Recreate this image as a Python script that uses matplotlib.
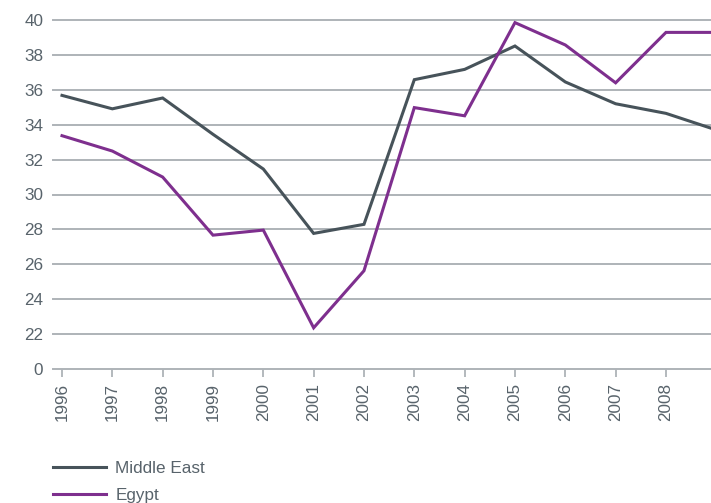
import matplotlib
matplotlib.use("Agg")
import matplotlib.pyplot as plt

years = [1996, 1997, 1998, 1999, 2000, 2001, 2002, 2003, 2004, 2005, 2006, 2007, 2008, 2009]
middle_east = [35.68, 34.91, 35.53, 33.45, 31.46, 27.77, 28.29, 36.58, 37.17, 38.51, 36.45, 35.2, 34.65, 33.7]
egypt = [33.37, 32.49, 31.0, 27.67, 27.96, 22.36, 25.63, 34.98, 34.51, 39.85, 38.57, 36.4, 39.29, 39.29]
tick_years = list(range(1996, 2009))
y_ticks = [20, 22, 24, 26, 28, 30, 32, 34, 36, 38, 40]
y_tick_labels = ["0", "22", "24", "26", "28", "30", "32", "34", "36", "38", "40"]

plt.rcParams['font.family'] = ['Liberation Sans', 'DejaVu Sans']
text_color = "#58636b"
grid_color = "#aeb3b8"
me_color = "#47535a"
eg_color = "#7e2f8e"
fs = 12.3

fig = plt.figure(figsize=(7.11, 5.03), dpi=100)
ax = fig.add_axes([53/711, 1-369/503, 1-53/711, (369-20)/503])

ax.plot(years, middle_east, color=me_color, lw=2.2, label="Middle East", solid_joinstyle='miter', zorder=3)
ax.plot(years, egypt, color=eg_color, lw=2.2, label="Egypt", solid_joinstyle='miter', zorder=3)

ax.set_xlim(1996 - 9/50.33, 1996 + (711-62)/50.33)
ax.set_ylim(20, 40)
ax.set_yticks(y_ticks)
ax.set_yticklabels(y_tick_labels)
ax.set_xticks(tick_years)
ax.set_xticklabels([str(y) for y in tick_years], rotation=90, va='top', ha='center')

for v in y_ticks:
    ax.axhline(v, color=grid_color, lw=1.4, zorder=1, clip_on=False)

for s in ax.spines.values():
    s.set_visible(False)

ax.tick_params(axis='y', length=0, pad=7, labelsize=fs, labelcolor=text_color)
ax.tick_params(axis='x', length=6, width=1.3, color=grid_color, pad=4, labelsize=fs, labelcolor=text_color)

leg = fig.legend(loc='upper left', bbox_to_anchor=(53/711, 1-461/503), frameon=False,
                 handlelength=3.1, handletextpad=0.55, labelspacing=0.68, fontsize=fs,
                 borderpad=0, borderaxespad=0)
for t in leg.get_texts():
    t.set_color(text_color)

fig.savefig("out.png", dpi=100)
